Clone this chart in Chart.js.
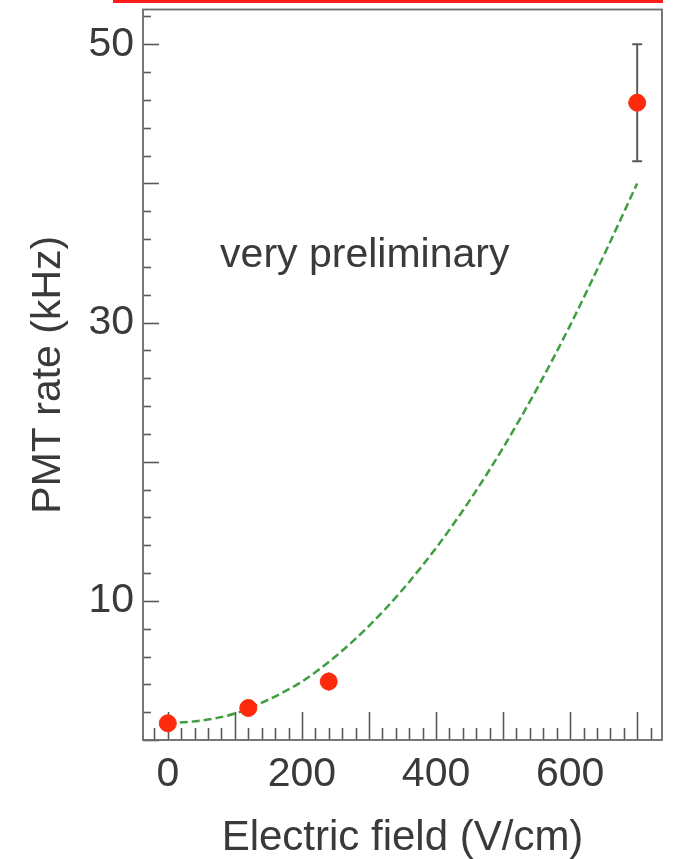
<!DOCTYPE html>
<html>
<head>
<meta charset="utf-8">
<script src="https://cdn.jsdelivr.net/npm/chart.js@4.4.1/dist/chart.umd.min.js"></script>
<style>
  html, body { margin: 0; padding: 0; background: #fff; }
  #wrap { position: relative; width: 679px; height: 859px; }
  #redline { position: absolute; left: 113px; top: 0; width: 550px; height: 3px; background: #ff1a1a; }
  canvas { position: absolute; left: 0; top: 0; }
</style>
</head>
<body>
<div id="wrap">
  <canvas id="chart" width="679" height="859"></canvas>
  <div id="redline"></div>
</div>
<script>
// measured points
const FIELD    = [0, 120, 240, 700];
const RATE     = [1.2, 2.3, 4.2, 45.8];
const RATE_ERR = [0, 0, 0.65, 4.2];

// dashed fit curve
const FIT_FIELD = [0, 50, 100, 150, 200, 250, 300, 350, 400, 450, 500, 550, 600, 650, 700];
const FIT_RATE  = [1.2, 1.4, 1.9, 2.9, 4.2, 6.0, 8.2, 10.8, 13.8, 17.2, 21.0, 25.2, 29.8, 34.8, 40.0];

// labelled ticks
const X_LABELS = [0, 200, 400, 600];
const Y_LABELS = [10, 30, 50];

const NOTE = 'very preliminary';

const FONT = "'Liberation Sans', Arial, Helvetica, sans-serif";
const TEXT = '#3a3a3a';
const AXIS = '#5a5a5a';
const RED = '#ff2a0c';
const GREEN = '#3f9e3f';

const near = (v, step) => Math.abs(v / step - Math.round(v / step)) < 1e-6;

// error bar segments, one dataset each
const errSets = FIELD.map((f, i) => ({ f, r: RATE[i], e: RATE_ERR[i] }))
  .filter(d => d.e > 0)
  .map(d => ({
    type: 'line',
    data: [{ x: d.f, y: d.r - d.e }, { x: d.f, y: d.r + d.e }],
    borderColor: AXIS,
    borderWidth: 2,
    pointStyle: 'line',
    pointRadius: d.e > 1 ? 5 : 0,
    pointBorderWidth: 2,
    pointBorderColor: AXIS,
    order: 2
  }));

// ── inward ticks, frame, note ────────────────────────────────────
const framePlugin = {
  id: 'frame',
  beforeDatasetsDraw(chart) {
    const { ctx, chartArea: a, scales: { x, y } } = chart;
    ctx.save();
    ctx.strokeStyle = AXIS;
    ctx.lineWidth = 1.6;
    x.ticks.forEach(t => {
      if (!near(t.value, 20)) return;
      const px = Math.round(x.getPixelForValue(t.value)) + 0.5;
      const len = near(t.value, 100) ? 28 : 12;
      ctx.beginPath(); ctx.moveTo(px, a.bottom); ctx.lineTo(px, a.bottom - len); ctx.stroke();
    });
    y.ticks.forEach(t => {
      if (!near(t.value, 2)) return;
      const py = Math.round(y.getPixelForValue(t.value)) + 0.5;
      const len = near(t.value, 10) ? 16 : 8;
      ctx.beginPath(); ctx.moveTo(a.left, py); ctx.lineTo(a.left + len, py); ctx.stroke();
    });
    ctx.strokeStyle = '#6a6a6a';
    ctx.lineWidth = 1.8;
    ctx.strokeRect(a.left, a.top, a.right - a.left, a.bottom - a.top);

    ctx.fillStyle = TEXT;
    ctx.font = '41px ' + FONT;
    ctx.textBaseline = 'alphabetic';
    ctx.fillText(NOTE, x.getPixelForValue(78), y.getPixelForValue(34));
    ctx.restore();
  }
};

new Chart(document.getElementById('chart'), {
  type: 'scatter',
  data: {
    datasets: [
      {
        type: 'scatter',
        data: FIELD.map((f, i) => ({ x: f, y: RATE[i] })),
        backgroundColor: RED,
        borderColor: RED,
        pointRadius: 8.5,
        order: 1
      },
      ...errSets,
      {
        type: 'line',
        data: FIT_FIELD.map((f, i) => ({ x: f, y: FIT_RATE[i] })),
        borderColor: GREEN,
        borderWidth: 2.5,
        borderDash: [8, 4],
        pointRadius: 0,
        cubicInterpolationMode: 'monotone',
        order: 3
      }
    ]
  },
  options: {
    responsive: false,
    animation: false,
    events: [],
    layout: { padding: { top: 6, right: 17, bottom: 0, left: 0 } },
    plugins: { legend: { display: false }, tooltip: { enabled: false } },
    scales: {
      x: {
        type: 'linear',
        min: -37, max: 737,
        grid: { display: false, drawTicks: false },
        border: { display: false },
        afterFit: s => { s.height = 119; s.paddingLeft = 0; s.paddingRight = 0; },
        ticks: {
          stepSize: 20,
          includeBounds: false,
          autoSkip: false,
          maxRotation: 0,
          padding: 10,
          color: TEXT,
          font: { family: FONT, size: 41 },
          callback: v => X_LABELS.includes(v) ? String(v) : ''
        },
        title: {
          display: true,
          text: 'Electric field (V/cm)',
          color: TEXT,
          font: { family: FONT, size: 42, lineHeight: 1 },
          padding: { top: 0, bottom: 0 }
        }
      },
      y: {
        type: 'linear',
        min: 0, max: 52.5,
        grid: { display: false, drawTicks: false },
        border: { display: false },
        afterFit: s => { s.width = 143; s.paddingTop = 0; s.paddingBottom = 0; },
        ticks: {
          stepSize: 2,
          includeBounds: false,
          autoSkip: false,
          padding: 9,
          color: TEXT,
          font: { family: FONT, size: 41 },
          callback: v => Y_LABELS.includes(v) ? String(v) : ''
        },
        title: {
          display: true,
          text: 'PMT rate (kHz)',
          color: TEXT,
          font: { family: FONT, size: 41, lineHeight: 1 },
          padding: { top: 28, bottom: 0 }
        }
      }
    }
  },
  plugins: [framePlugin]
});
</script>
</body>
</html>
